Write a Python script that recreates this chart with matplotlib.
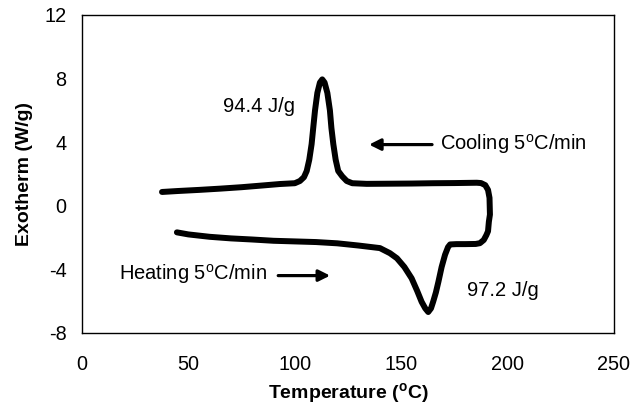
import matplotlib
matplotlib.use("Agg")
import matplotlib.pyplot as plt

plt.rcParams['font.family'] = ['Liberation Sans', 'DejaVu Sans']
plt.rcParams['mathtext.fontset'] = 'custom'
plt.rcParams['mathtext.rm'] = 'Liberation Sans'
plt.rcParams['mathtext.it'] = 'Liberation Sans:italic'
plt.rcParams['mathtext.bf'] = 'Liberation Sans:bold'
plt.rcParams['axes.unicode_minus'] = False

# Heating scan (temperature increasing), then the turn-around at ~190 C
heating_T = [44.6, 50, 60, 70, 80, 90, 100, 110, 120, 130, 140, 144.7, 148, 151.5, 154.9,
             157.5, 159.6, 161.3, 162.7, 164, 165, 166.3, 167.5, 169, 170.6, 172, 173,
             176, 180, 185, 187, 188.8, 190, 190.8, 191.2, 191.7, 191.5, 190.8, 189.5,
             187.5, 185.5]
heating_W = [-1.67, -1.80, -1.95, -2.05, -2.12, -2.20, -2.24, -2.28, -2.36, -2.50, -2.66,
             -2.98, -3.30, -3.85, -4.56, -5.35, -6.04, -6.45, -6.68, -6.45, -6.04, -5.45,
             -4.77, -3.85, -3.08, -2.60, -2.43, -2.41, -2.41, -2.40, -2.35, -2.15, -1.85,
             -1.60, -1.00, -0.55, 0.50, 1.00, 1.30, 1.43, 1.45]

# Cooling scan (temperature decreasing)
cooling_T = [185.5, 175, 165, 155, 145, 133.8, 127, 124.4, 122.3, 120.4, 119.2, 118.1,
             117.2, 116.5, 115.3, 114.0, 112.9, 111.8, 110.6, 109.5, 108.7, 107.9, 106.8,
             105.6, 104.3, 102.4, 100, 93, 85, 75, 65, 55, 45, 37.6]
cooling_W = [1.45, 1.43, 1.42, 1.40, 1.39, 1.38, 1.42, 1.56, 1.85, 2.19, 2.90, 3.88,
             4.90, 6.00, 7.10, 7.75, 7.95, 7.75, 7.10, 6.00, 4.95, 3.88, 2.90, 2.19,
             1.80, 1.56, 1.42, 1.37, 1.28, 1.17, 1.08, 1.00, 0.93, 0.87]

x_ticks = [0, 50, 100, 150, 200, 250]
y_ticks = [-8, -4, 0, 4, 8, 12]

W, H = 632, 407
fig = plt.figure(figsize=(W / 100, H / 100), dpi=100)
ax = fig.add_axes([82 / W, 1 - 333 / H, (614 - 82) / W, (333 - 15) / H])

T = heating_T + cooling_T
Wg = heating_W + cooling_W
ax.plot(T, Wg, color='black', lw=4.3, solid_capstyle='round', solid_joinstyle='round')

ax.set_xlim(0, 250)
ax.set_ylim(-8, 12)
ax.set_xticks(x_ticks)
ax.set_yticks(y_ticks)
ax.set_xticks(x_ticks[1:-1], minor=True)
ax.tick_params(axis='x', which='major', length=0, pad=16, labelsize=14.3)
ax.tick_params(axis='x', which='minor', length=6, width=1, direction='out')
ax.tick_params(axis='y', which='major', length=0, pad=11, labelsize=14.3)
for s in ax.spines.values():
    s.set_linewidth(1.0)
    s.set_color('black')

ax.set_xlabel(r'Temperature ($\mathbf{^o}$C)', fontsize=14, fontweight='bold', labelpad=5)
ax.set_ylabel('Exotherm (W/g)', fontsize=14, fontweight='bold', labelpad=8)

fs = 14.5
ax.text(66.3, 6.24, '94.4 J/g', fontsize=fs, ha='left', va='center')
ax.text(168.2, 3.9, r'Cooling 5$^\mathrm{o}$C/min', fontsize=fs, ha='left', va='center')
ax.text(17.4, -4.3, r'Heating 5$^\mathrm{o}$C/min', fontsize=fs, ha='left', va='center')
ax.text(181, -5.3, '97.2 J/g', fontsize=fs, ha='left', va='center')

arrow = dict(arrowstyle='-|>', color='black', lw=2.3, mutation_scale=17, shrinkA=0, shrinkB=0)
ax.annotate('', xy=(134.9, 3.85), xytext=(164.5, 3.85), arrowprops=arrow)
ax.annotate('', xy=(116.6, -4.39), xytext=(92.2, -4.39), arrowprops=arrow)

fig.savefig('out.png', dpi=100)
